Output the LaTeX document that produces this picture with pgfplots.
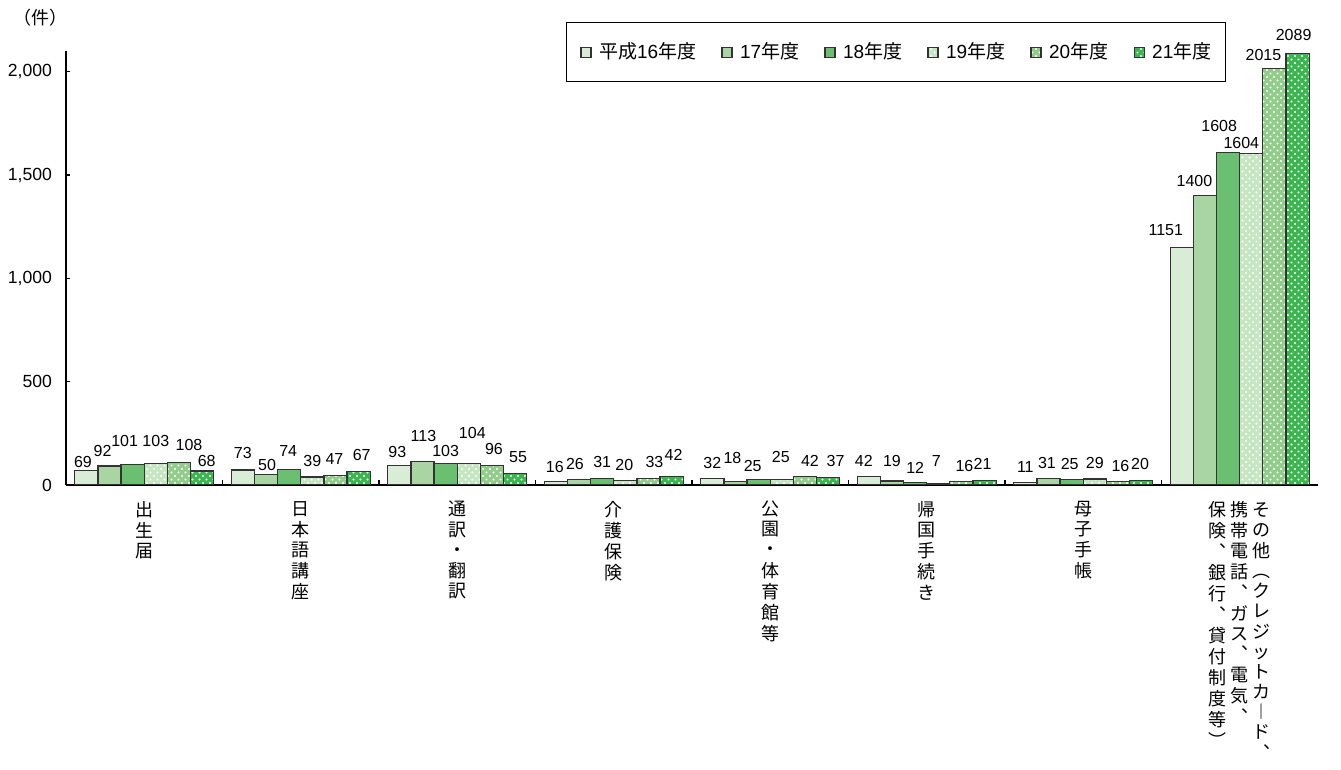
\documentclass[border=0pt]{standalone}
\usepackage{fontspec}
\setmainfont{Liberation Sans}
\newfontfamily\jp{Noto Sans CJK JP}
\usepackage{pgfplots}
\pgfplotsset{compat=1.18}
\usepackage{pgfplotstable}
\usetikzlibrary{patterns}

\definecolor{c16}{HTML}{D8ECD6}
\definecolor{c17}{HTML}{A8D5A2}
\definecolor{c18}{HTML}{6BBF70}
\definecolor{c19}{HTML}{C6E5C2}
\definecolor{c20}{HTML}{92CC8B}
\definecolor{c21}{HTML}{3BB54F}
\definecolor{edge}{HTML}{333333}

\pgfdeclarepatternformonly{wdots}{\pgfqpoint{-0.6pt}{-0.6pt}}{\pgfqpoint{2.4pt}{2.4pt}}{\pgfqpoint{3.5pt}{3.5pt}}{%
  \pgfpathcircle{\pgfqpoint{0pt}{0pt}}{0.55pt}%
  \pgfpathcircle{\pgfqpoint{1.75pt}{1.75pt}}{0.55pt}%
  \pgfusepath{fill}}

\newcommand\vcol[1]{\begin{tabular}[t]{@{}c@{}}#1\end{tabular}}

% x = category, y = value, dx / g = label offsets (px)
\pgfplotstableread{
x y dx g
0 69 -3.4 9
1 73 0 17
2 93 -2 13.5
3 16 -1 15
4 32 0 15
5 42 -5 15
6 11 0 16
7 1151 -16 17
}\tA
\pgfplotstableread{
x y dx g
0 92 -7 15
1 50 1 9.4
2 113 1 25.7
3 26 -4 15.6
4 18 -3 23
5 19 0 20.3
6 31 -1.5 15.3
7 1400 -10.5 14.4
}\tB
\pgfplotstableread{
x y dx g
0 101 -8 23.4
1 74 -1 18.7
2 103 0 13
3 31 0 17
4 25 -6 14
5 12 0 15
6 25 -2 15.8
7 1608 -9 27
}\tC
\pgfplotstableread{
x y dx g
0 103 0 22.4
1 39 0 15.7
2 104 3.5 31
3 20 -1 16
4 25 -1 23
5 7 -2 23
6 29 0 16.3
7 1604 -10 10.5
}\tD
\pgfplotstableread{
x y dx g
0 108 10 17.7
1 47 -1 16
2 96 2 16
3 33 6 16
4 42 5 15.6
5 16 3 16
6 16 2.5 15.7
7 2015 -11 14
}\tE
\pgfplotstableread{
x y dx g
0 68 4.5 10
1 67 3 16
2 55 3 17
3 42 2 21
4 37 7.5 16.7
5 21 -2 16.4
6 20 -1 17
7 2089 -4 18.6
}\tF

\begin{document}
\begin{tikzpicture}
\begin{axis}[
  at={(0,0)}, anchor=south west,
  scale only axis, width=626pt, height=217pt,
  xmin=-0.5, xmax=7.5, ymin=0, ymax=2100,
  axis lines=left,
  axis line style={-, line width=0.9pt, black},
  ybar=0pt, bar width=0.148,
  ytick={0,500,1000,1500,2000},
  /pgf/number format/.cd, 1000 sep={,}, assume math mode=true, /pgfplots/.cd,
  yticklabel style={font=\fontsize{8.8}{10}\selectfont, xshift=-3.5pt},
  tick align=inside, major tick length=2pt,
  y tick style={line width=0.8pt, black},
  xtick={0,...,7},
  x tick style={draw=none},
  extra x ticks={0.5,1.5,2.5,3.5,4.5,5.5,6.5},
  extra x tick labels={},
  extra x tick style={major tick length=2.5pt, x tick style={draw=black, line width=0.8pt}},
  xticklabel style={font=\jp\fontsize{9}{10}\selectfont, anchor=north, yshift=-4.5pt},
  xticklabels={
    {\vcol{出\\生\\届}},
    {\vcol{日\\本\\語\\講\\座}},
    {\vcol{通\\訳\\・\\翻\\訳}},
    {\vcol{介\\護\\保\\険}},
    {\vcol{公\\園\\・\\体\\育\\館\\等}},
    {\vcol{帰\\国\\手\\続\\き}},
    {\vcol{母\\子\\手\\帳}},
    {\vcol{保\\険\\︑\\銀\\行\\︑\\貸\\付\\制\\度\\等\\︶}\hspace{2pt}\vcol{携\\帯\\電\\話\\︑\\ガ\\ス\\︑\\電\\気\\︑}\hspace{2pt}\vcol{そ\\の\\他\\︵\\ク\\レ\\ジ\\ッ\\ト\\カ\\︱\\ド\\︑}}
  },
  every axis plot/.append style={draw=edge, line width=0.6pt},
  lbl/.style={
    nodes near coords, point meta=explicit symbolic,
    visualization depends on={\thisrow{dx} \as \dx},
    visualization depends on={\thisrow{g} \as \g},
    every node near coord/.append style={font=\fontsize{8}{9}\selectfont, anchor=center, inner sep=0pt,
      xshift=\dx*0.5pt, yshift=\g*0.5pt, text=black}
  },
  legend columns=6,
  legend style={at={(0.9265,1.0668)}, anchor=north east, draw=black, line width=0.6pt,
    font=\fontsize{9.5}{10}\selectfont, inner xsep=7pt, inner ysep=10pt,
    nodes={inner sep=0pt},
    column sep=3.75pt,
    /tikz/every even column/.append style={column sep=12.6pt}},
  legend image code/.code={\draw[#1, line width=0.6pt] (0pt,-2.5pt) rectangle (5pt,2.5pt);},
]
\addplot[fill=c16, lbl] table[x=x, y=y, meta=y]{\tA};
\addplot[fill=c17, lbl] table[x=x, y=y, meta=y]{\tB};
\addplot[fill=c18, lbl] table[x=x, y=y, meta=y]{\tC};
\addplot[fill=c19, postaction={pattern=wdots, pattern color=white}, lbl] table[x=x, y=y, meta=y]{\tD};
\addplot[fill=c20, postaction={pattern=wdots, pattern color=white}, lbl] table[x=x, y=y, meta=y]{\tE};
\addplot[fill=c21, postaction={pattern=wdots, pattern color=white}, lbl] table[x=x, y=y, meta=y]{\tF};
\legend{{\jp 平成}16{\jp 年度}, 17{\jp 年度}, 18{\jp 年度}, 19{\jp 年度}, 20{\jp 年度}, 21{\jp 年度}}
\end{axis}
\node[font=\jp\fontsize{9}{10}\selectfont] at (-13pt,233.5pt) {（件）};
\pgfresetboundingbox
\useasboundingbox (-33pt,-142.5pt) rectangle (637.5pt,242.5pt);
\end{tikzpicture}
\end{document}
